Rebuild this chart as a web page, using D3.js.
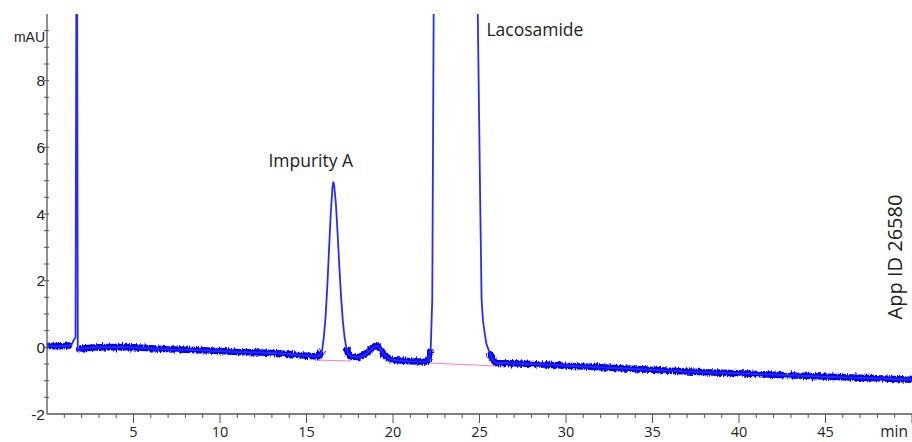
<!DOCTYPE html>
<html>
<head>
<meta charset="utf-8">
<script src="https://cdn.jsdelivr.net/npm/d3@7"></script>
<style>
  body { margin: 0; background: #fff; }
  text { fill: #222; }
</style>
</head>
<body>
<script>

var width = 912,
  height = 442;

// retention time (min) and signal (mAU)
var times = [0.0, 0.5, 1.0, 1.4, 1.55, 1.65, 1.70, 1.72, 1.74, 1.78, 1.9, 2.5, 3.0, 4.0, 5.0, 6.0, 7.0, 8.0, 9.0, 10.0,
  11.0, 12.0, 13.0, 14.0, 15.0, 15.5, 15.75, 15.9, 16.0, 16.1, 16.2, 16.3, 16.4, 16.5, 16.55, 16.6, 16.7, 16.8, 16.9, 17.0,
  17.1, 17.2, 17.3, 17.4, 17.6, 18.0, 18.4, 18.7, 18.9, 19.05, 19.2, 19.4, 19.7, 20.0, 21.0, 21.9, 22.02, 22.18, 22.27, 22.35,
  22.45, 23.0, 23.6, 24.3, 24.8, 24.9, 25.04, 25.12, 25.2, 25.29, 25.4, 25.58, 25.8, 26.0, 27.0, 28.0, 29.0, 30.0, 32.0, 34.0,
  36.0, 38.0, 40.0, 42.0, 44.0, 46.0, 48.0, 50.0];
var signal = [0.05, 0.03, 0.04, 0.06, 0.22, 0.3, 12, 15, 12, -0.1, -0.04, -0.01, 0.0, 0.01, 0.0, -0.03, -0.06, -0.07, -0.09, -0.11,
  -0.14, -0.15, -0.17, -0.2, -0.25, -0.27, -0.26, -0.1, 0.3, 0.9, 1.8, 2.9, 4.0, 4.8, 4.97, 4.85, 4.3, 3.4, 2.4, 1.5,
  0.8, 0.3, 0.0, -0.18, -0.28, -0.29, -0.22, -0.08, 0.02, 0.05, 0.0, -0.15, -0.32, -0.38, -0.42, -0.43, -0.4, -0.05, 1.45, 10,
  40, 250, 350, 200, 20, 10, 4.4, 1.45, 0.8, 0.46, 0.1, -0.15, -0.4, -0.47, -0.48, -0.5, -0.52, -0.55, -0.6, -0.65,
  -0.7, -0.75, -0.78, -0.82, -0.86, -0.9, -0.93, -0.97];

// integration baselines (pink)
var baseStart = [[15.6, -0.38], [22.0, -0.47]];
var baseEnd = [[17.6, -0.41], [26.0, -0.56]];

var peakNames = ["Impurity A", "Lacosamide"];
var peakLabelPos = [[12.8, 5.4], [25.4, 9.35]];

var xTicks = [5, 10, 15, 20, 25, 30, 35, 40, 45];
var yTicks = [-2, 0, 2, 4, 6, 8];

var plotLeft = 47, plotRight = 912, plotTop = 14, plotBottom = 414;

var x = d3.scaleLinear().domain([0, 50]).range([plotLeft, plotRight]);
var y = d3.scaleLinear().domain([-2, 10]).range([plotBottom, plotTop]);

var svg = d3.select("body").append("svg")
  .attr("width", width)
  .attr("height", height)
  .style("font-family", "'Liberation Sans', Arial, sans-serif");

var defs = svg.append("defs");
defs.append("clipPath").attr("id", "plot")
  .append("rect")
  .attr("x", plotLeft).attr("y", plotTop)
  .attr("width", plotRight - plotLeft).attr("height", plotBottom - plotTop);

// texture so the baseline band looks like detector noise
var rough = defs.append("filter").attr("id", "rough")
  .attr("filterUnits", "userSpaceOnUse")
  .attr("x", 0).attr("y", 0).attr("width", width).attr("height", height);
rough.append("feTurbulence")
  .attr("type", "fractalNoise")
  .attr("baseFrequency", "0.8 0.2")
  .attr("numOctaves", 2)
  .attr("seed", 3)
  .attr("result", "noise");
rough.append("feDisplacementMap")
  .attr("in", "SourceGraphic")
  .attr("in2", "noise")
  .attr("scale", 5)
  .attr("xChannelSelector", "R")
  .attr("yChannelSelector", "G");

var data = times.map(function(t, i) { return [t, signal[i]]; });

var line = d3.line()
  .x(function(d) { return x(d[0]); })
  .y(function(d) { return y(Math.min(d[1], 60)); });

// pink baselines under the peaks
svg.selectAll(".base").data(baseStart).enter().append("line")
  .attr("class", "base")
  .attr("x1", function(d) { return x(d[0]); })
  .attr("y1", function(d) { return y(d[1]); })
  .attr("x2", function(d, i) { return x(baseEnd[i][0]); })
  .attr("y2", function(d, i) { return y(baseEnd[i][1]); })
  .attr("stroke", "#ff77dd")
  .attr("stroke-width", 1.2);

var g = svg.append("g").attr("clip-path", "url(#plot)");

// band for the noisy baseline
var band = d3.line()
  .defined(function(d) { return d[1] < 0.1; })
  .x(function(d) { return x(d[0]); })
  .y(function(d) { return y(d[1]); });

g.append("g").attr("filter", "url(#rough)")
  .append("path")
  .datum(data)
  .attr("d", band)
  .attr("fill", "none")
  .attr("stroke", "#0000ff")
  .attr("stroke-width", 6.5)
  .attr("stroke-linejoin", "round");

g.append("path")
  .datum(data)
  .attr("d", line)
  .attr("fill", "none")
  .attr("stroke", "#2a2aff")
  .attr("stroke-width", 1.8);

// axes
var axisColor = "#555";

var xAxis = svg.append("g");
xAxis.append("line")
  .attr("x1", plotLeft).attr("x2", plotRight)
  .attr("y1", plotBottom).attr("y2", plotBottom)
  .attr("stroke", axisColor).attr("stroke-width", 1.3);
xAxis.selectAll(".minor").data(d3.range(1, 51)).enter().append("line")
  .attr("x1", function(d) { return x(d); }).attr("x2", function(d) { return x(d); })
  .attr("y1", plotBottom).attr("y2", function(d) { return d % 5 == 0 ? plotBottom + 9 : plotBottom + 4; })
  .attr("stroke", axisColor);
xAxis.selectAll("text").data(xTicks).enter().append("text")
  .attr("x", function(d) { return x(d); })
  .attr("y", 437)
  .attr("text-anchor", "middle")
  .style("font-family", "'Open Sans', sans-serif")
  .style("font-size", "14.5px")
  .text(function(d) { return d; });
xAxis.append("text")
  .attr("x", 908).attr("y", 437)
  .attr("text-anchor", "end")
  .style("font-family", "'Open Sans', sans-serif")
  .style("font-size", "15.5px")
  .text("min");

var yAxis = svg.append("g");
yAxis.append("line")
  .attr("x1", plotLeft).attr("x2", plotLeft)
  .attr("y1", plotTop).attr("y2", plotBottom)
  .attr("stroke", axisColor).attr("stroke-width", 1.3);
yAxis.selectAll(".minor").data(d3.range(-1.5, 10, 0.5)).enter().append("line")
  .attr("x1", plotLeft - 3).attr("x2", plotLeft + 2)
  .attr("y1", function(d) { return y(d); }).attr("y2", function(d) { return y(d); })
  .attr("stroke", axisColor);
yAxis.selectAll("text").data(yTicks).enter().append("text")
  .attr("x", plotLeft - 2)
  .attr("y", function(d) { return y(d) + 5.5; })
  .attr("text-anchor", "end")
  .style("font-size", "15.5px")
  .text(function(d) { return d; });
yAxis.append("text")
  .attr("x", 45).attr("y", 42)
  .attr("text-anchor", "end")
  .style("font-size", "14px")
  .text("mAU");

// peak names
svg.selectAll(".peak").data(peakNames).enter().append("text")
  .attr("class", "peak")
  .attr("x", function(d, i) { return x(peakLabelPos[i][0]); })
  .attr("y", function(d, i) { return y(peakLabelPos[i][1]); })
  .style("font-family", "'Open Sans', sans-serif")
  .style("font-size", "17.5px")
  .text(function(d) { return d; });

svg.append("text")
  .attr("transform", "translate(902,257) rotate(-90)")
  .attr("text-anchor", "middle")
  .style("font-family", "'Open Sans', sans-serif")
  .style("font-size", "20px")
  .text("App ID 26580");

</script>
</body>
</html>
